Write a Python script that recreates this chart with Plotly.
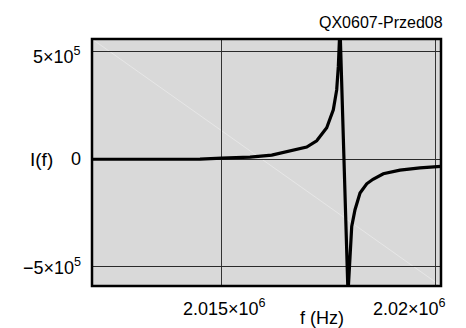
import plotly.graph_objects as go

# Frequency sweep (Hz) and response I(f)
freq_hz = [2.011986e6, 2.013341e6, 2.014509e6, 2.015016e6, 2.015678e6,
           2.016185e6, 2.016612e6, 2.017002e6, 2.017236e6, 2.017470e6,
           2.017624e6, 2.017703e6, 2.017741e6, 2.017780e6, 2.017967e6,
           2.018054e6, 2.018131e6, 2.018248e6, 2.018404e6, 2.018551e6,
           2.018792e6, 2.019182e6, 2.019649e6, 2.020140e6]
current = [-500, -500, 500, 4900, 9600,
           18900, 36600, 56200, 85500, 146100,
           230000, 323000, 431700, 620000, -627000,
           -313800, -236000, -158200, -114900, -93900,
           -68300, -51000, -40300, -33300]

x_tick_vals = [2.015e6, 2.02e6]
x_tick_text = ["2.015×10<sup>6</sup>", "2.02×10<sup>6</sup>"]
y_tick_vals = [5e5, 0, -5e5]
y_tick_text = ["5×10<sup>5</sup>", "0", "−5×10<sup>5</sup>"]

x_range = [2.011986e6, 2.020140e6]
y_range = [-5.918e5, 5.606e5]

FONT = "Liberation Sans, Arial, sans-serif"

fig = go.Figure()
fig.add_trace(go.Scatter(
    x=freq_hz, y=current, mode="lines",
    line=dict(color="black", width=3.2),
    hoverinfo="skip", showlegend=False,
))

fig.update_layout(
    width=466, height=328,
    margin=dict(l=92, r=25, t=39, b=42),
    paper_bgcolor="white",
    plot_bgcolor="#d9d9d9",
    font=dict(family=FONT, size=18, color="black"),
    xaxis=dict(range=x_range, tickvals=x_tick_vals, showticklabels=False,
               showgrid=True, gridcolor="#333333", gridwidth=1,
               zeroline=False, showline=False, ticks=""),
    yaxis=dict(range=y_range, tickvals=y_tick_vals, showticklabels=False,
               showgrid=True, gridcolor="#2a2a2a", gridwidth=1,
               zeroline=False, showline=False, ticks=""),
)

# faint diagonal across the plotting area
fig.add_shape(type="line", xref="paper", yref="paper", x0=0, y0=1, x1=1, y1=0,
              line=dict(color="rgba(255,255,255,0.35)", width=1), layer="below")
# frame
fig.add_shape(type="rect", xref="paper", yref="paper", x0=0, y0=0, x1=1, y1=1,
              line=dict(color="black", width=2.5), layer="above")

# y tick labels
for v, t in zip(y_tick_vals, y_tick_text):
    shift = -4 if v == max(y_tick_vals) else 0
    fig.add_annotation(x=0, xref="paper", y=v, yref="y", text=t,
                       xanchor="right", yanchor="middle", xshift=-9, yshift=shift,
                       showarrow=False, font=dict(size=18))

# x tick labels (the last one is kept inside the figure)
for v, t in zip(x_tick_vals, x_tick_text):
    last = v == max(x_tick_vals)
    fig.add_annotation(x=v, xref="x", y=0, yref="paper", text=t,
                       xanchor="right" if last else "center",
                       xshift=13 if last else 3, yanchor="top", yshift=-8,
                       showarrow=False, font=dict(size=18))

# axis titles
fig.add_annotation(x=0, xref="paper", xshift=-37, y=0, yref="y",
                   text="I(f)", xanchor="right", yanchor="middle",
                   showarrow=False, font=dict(size=19))
fig.add_annotation(x=0.5, xref="paper", xshift=55, y=0, yref="paper", yshift=-20,
                   text="f (Hz)", xanchor="center", yanchor="top",
                   showarrow=False, font=dict(size=18))

# label in the top right corner
fig.add_annotation(x=1, xref="paper", xshift=4, y=1, yref="paper", yshift=17,
                   text="QX0607-Przed08", xanchor="right", yanchor="middle",
                   showarrow=False, font=dict(size=16))

fig.write_html("out.html")
